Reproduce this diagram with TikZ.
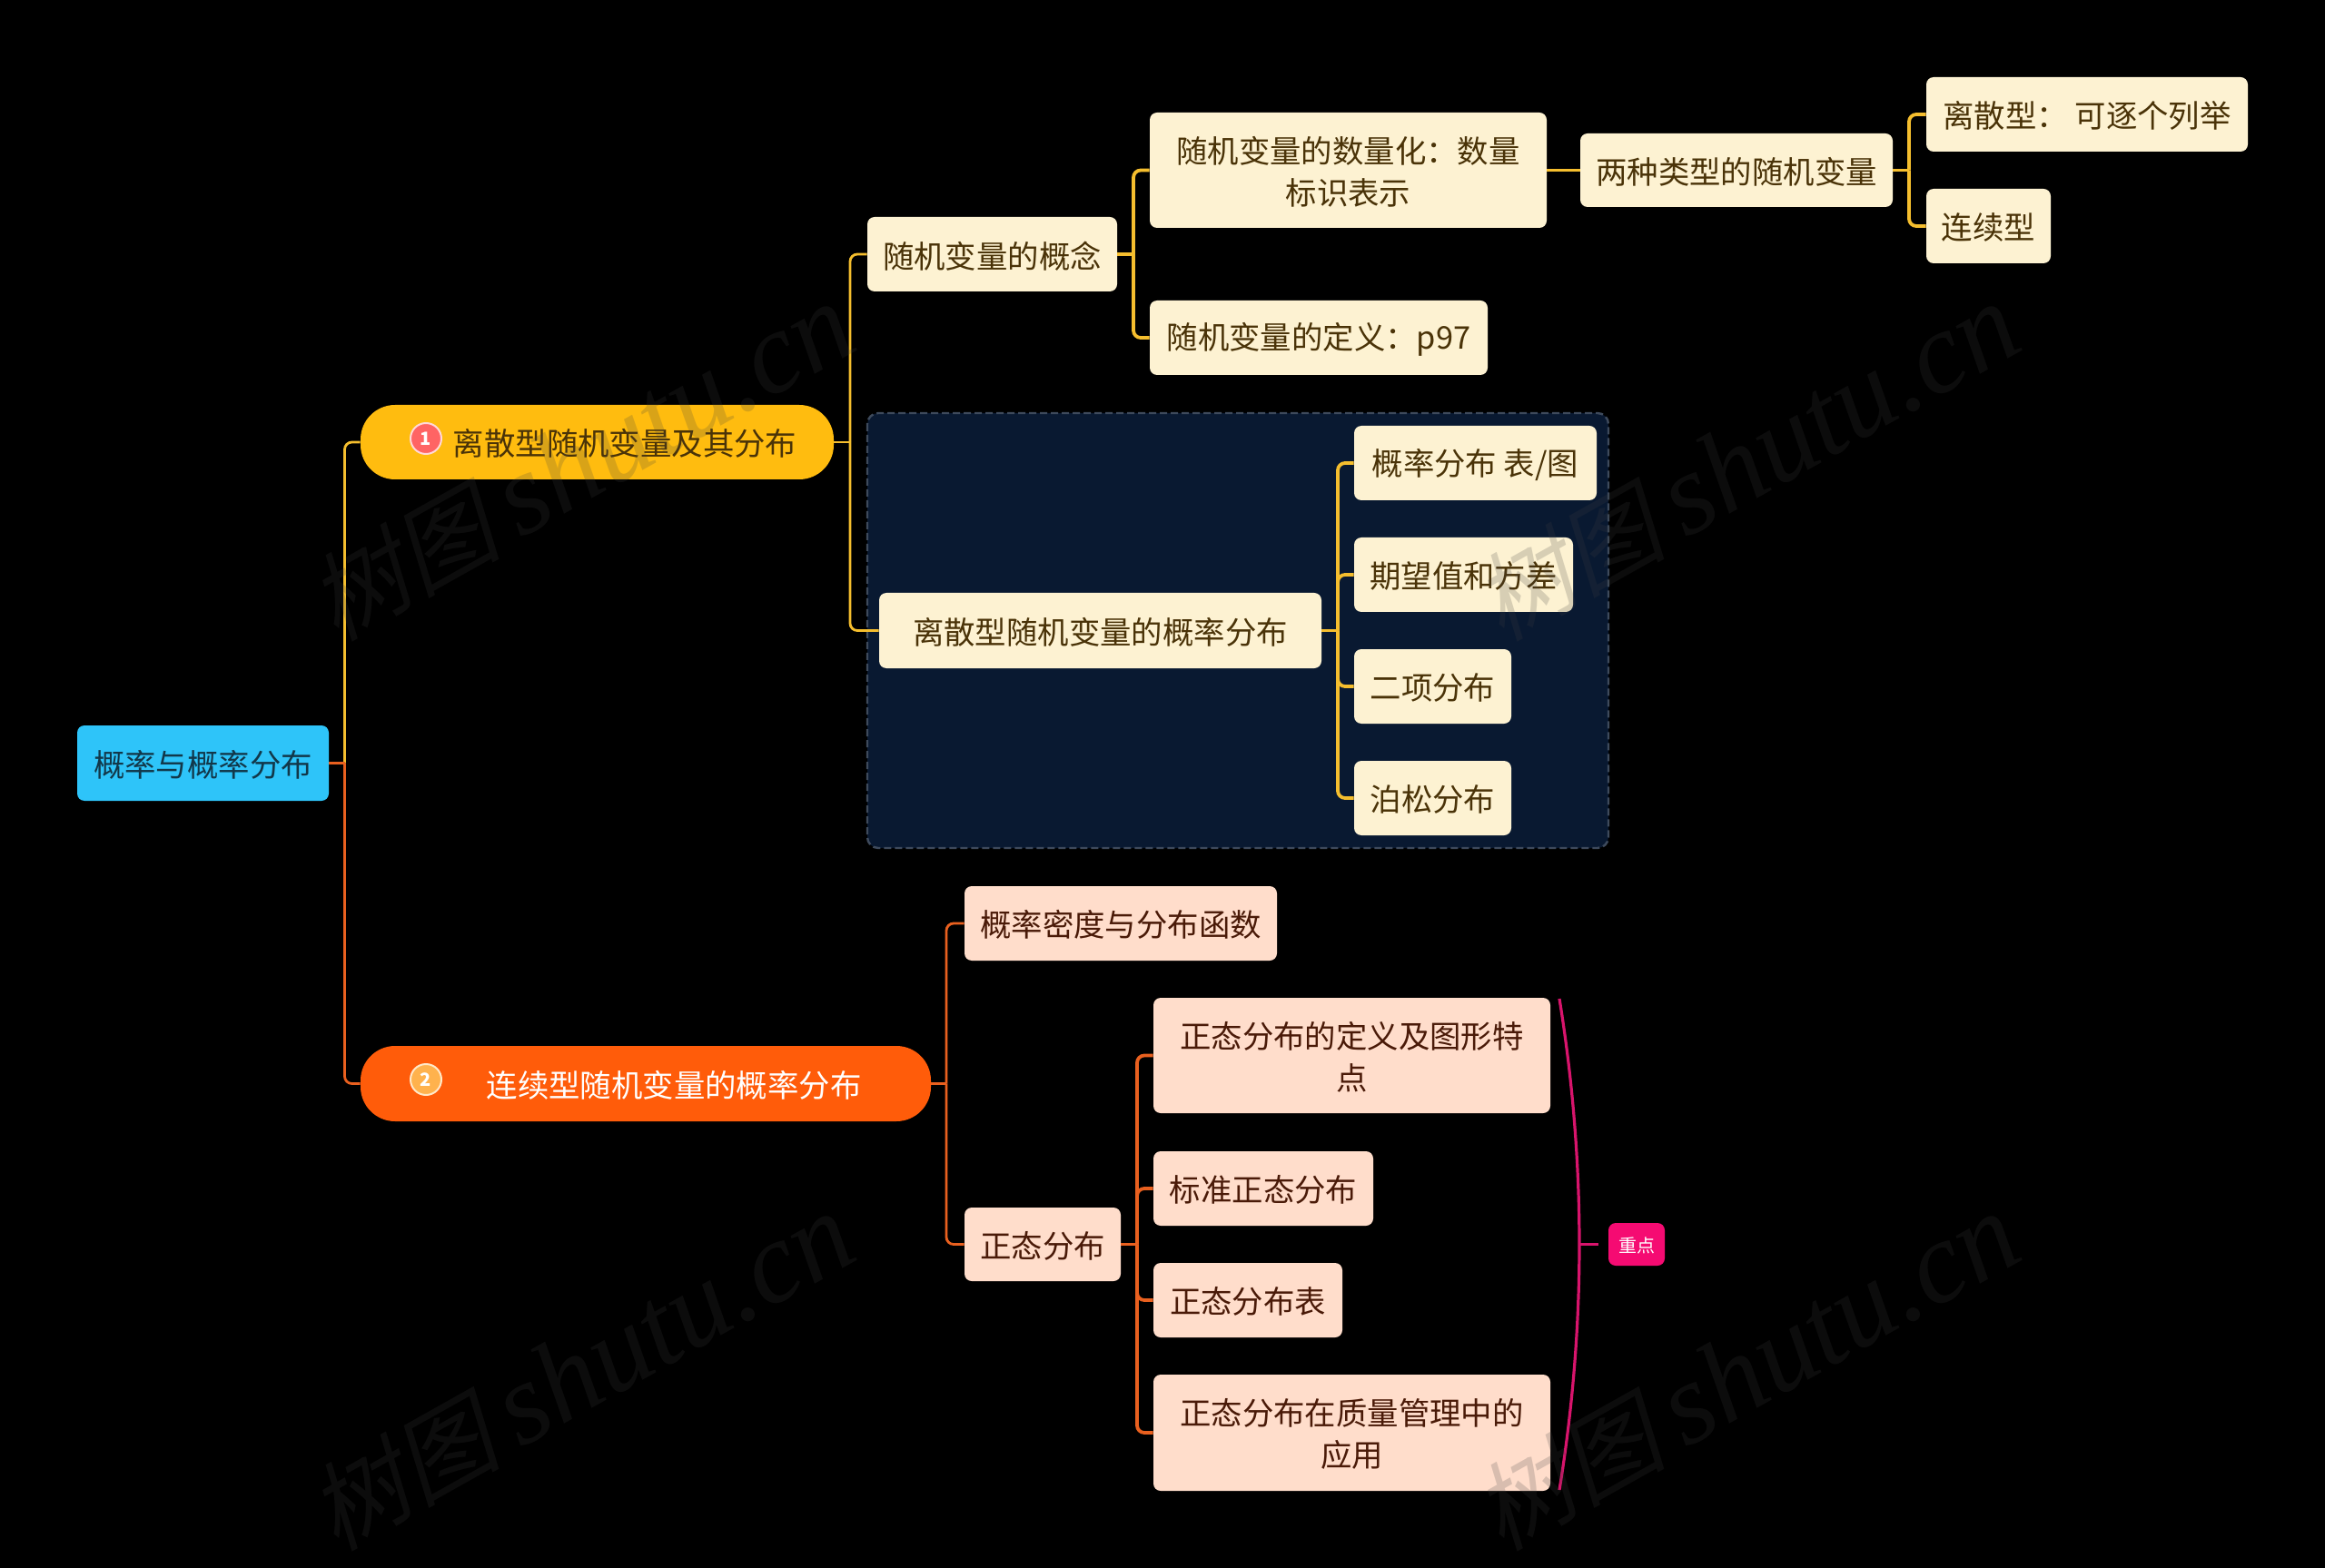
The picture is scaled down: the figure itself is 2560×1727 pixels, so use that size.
\documentclass[tikz,border=0pt]{standalone}
\usepackage{fontspec}
\setmainfont{Noto Sans CJK SC}
\newfontfamily\wmcjk[FakeSlant=0.22]{Noto Sans CJK SC}
\newfontfamily\wmlat{Liberation Serif}
\definecolor{cRoot}{HTML}{2EC4F9}
\definecolor{cYel}{HTML}{FFBC0F}
\definecolor{cOrg}{HTML}{FF5C0A}
\definecolor{cCream}{HTML}{FDF2D2}
\definecolor{cPeach}{HTML}{FFDDCB}
\definecolor{cGroup}{HTML}{091931}
\definecolor{cDash}{HTML}{3E4A5C}
\definecolor{cLineY}{HTML}{F5BE2E}
\definecolor{cLineO}{HTML}{E9601F}
\definecolor{cPink}{HTML}{F50B72}
\definecolor{cBrace}{HTML}{D8146C}
\definecolor{cTxtY}{HTML}{4A3308}
\definecolor{cTxtO}{HTML}{4A1A08}
\definecolor{cTxtR}{HTML}{12384A}
\definecolor{cBadgeA}{HTML}{FF6464}
\definecolor{cBadgeAe}{HTML}{FFD8D8}
\definecolor{cBadgeB}{HTML}{FFB24D}
\definecolor{cBadgeBe}{HTML}{FFE8C8}
% box from (#1,#2) to (#3,#4), name #5, style #6, text #7 set slightly below the box centre
\newcommand{\mmbox}[7]{%
  \node[#6,minimum width={(#3-#1)*0.5pt},minimum height={(#4-#2)*0.5pt}] (#5) at ({(#1+#3)/2},{(#2+#4)/2}) {};
  \node[#6,fill=none,yshift=-0.9pt] (#5t) at (#5.center) {#7};}
\newcommand{\mmelbow}[4]{\draw[#1,rounded corners=4pt] (#3,0 |- #2.east) -- (#3,0 |- #4.west) -- (#4.west);}
\newcommand{\mmstub}[3]{\draw[#1] (#2.east) -- (#3,0 |- #2.east);}
\newcommand{\mmwm}{\fontsize{53}{60}\wmcjk 树图\hspace{0.2em}\fontsize{64}{60}\wmlat\itshape shutu.cn}
\begin{document}
\begin{tikzpicture}[x=0.5pt,y=-0.5pt,
  basebox/.style={rectangle,rounded corners=4pt,inner sep=0pt,align=center,font=\fontsize{17.2}{23}\selectfont},
  rootbox/.style={basebox,fill=cRoot,text=cTxtR},
  yelpill/.style={basebox,rounded corners=19pt,fill=cYel,text=cTxtY},
  orgpill/.style={basebox,rounded corners=19pt,fill=cOrg,text=white},
  creambox/.style={basebox,fill=cCream,text=cTxtY},
  peachbox/.style={basebox,fill=cPeach,text=cTxtO},
  tagbox/.style={basebox,fill=cPink,text=white,font=\fontsize{10}{12}\selectfont},
  badge/.style={circle,inner sep=0pt,minimum size=17pt,line width=1pt,text=white,font=\fontsize{10}{10}\selectfont\bfseries},
  lnA/.style={line width=1.4pt},
  lnB/.style={line width=1.9pt},
  watermark/.style={rotate=29.3,text=black!75,text opacity=0.2}]
\useasboundingbox (0,0) rectangle (2560,1727);
\fill[black] (0,0) rectangle (2560,1727);
% group panel
\draw[fill=cGroup,draw=cDash,dash pattern=on 4pt off 2pt,line width=1.2pt,rounded corners=6pt] (955,455) rectangle (1771,934);
% nodes
\mmbox{85}{799}{362}{882}{root}{rootbox}{概率与概率分布}
\mmbox{397}{446}{918}{528}{one}{yelpill}{\hspace*{30.5pt}离散型随机变量及其分布}
\mmbox{397}{1152}{1025}{1235}{two}{orgpill}{\hspace*{31pt}连续型随机变量的概率分布}
\mmbox{955}{239}{1230}{321}{concept}{creambox}{随机变量的概念}
\mmbox{1266}{124}{1703}{251}{quant}{creambox}{随机变量的数量化：数量\\标识表示}
\mmbox{1266}{331}{1638}{413}{defn}{creambox}{随机变量的定义：p97}
\mmbox{1740}{147}{2084}{228}{types}{creambox}{两种类型的随机变量}
\mmbox{2121}{85}{2475}{167}{disc}{creambox}{离散型： 可逐个列举}
\mmbox{2121}{208}{2258}{290}{cont}{creambox}{连续型}
\mmbox{968}{653}{1455}{736}{dist}{creambox}{离散型随机变量的概率分布}
\mmbox{1491}{469}{1758}{551}{table}{creambox}{概率分布 表/图}
\mmbox{1491}{592}{1732}{674}{expect}{creambox}{期望值和方差}
\mmbox{1491}{715}{1664}{797}{binom}{creambox}{二项分布}
\mmbox{1491}{838}{1664}{920}{poisson}{creambox}{泊松分布}
\mmbox{1062}{976}{1406}{1058}{density}{peachbox}{概率密度与分布函数}
\mmbox{1062}{1330}{1234}{1411}{normal}{peachbox}{正态分布}
\mmbox{1270}{1099}{1707}{1226}{ndef}{peachbox}{正态分布的定义及图形特\\点}
\mmbox{1270}{1268}{1512}{1350}{nstd}{peachbox}{标准正态分布}
\mmbox{1270}{1391}{1478}{1473}{ntab}{peachbox}{正态分布表}
\mmbox{1270}{1514}{1707}{1642}{napp}{peachbox}{正态分布在质量管理中的\\应用}
\mmbox{1771}{1347}{1833}{1394}{tag}{tagbox}{重点}
% badges
\node[badge,fill=cBadgeA,draw=cBadgeAe] (b1) at (469,483) {1};
\node[badge,fill=cBadgeB,draw=cBadgeBe] (b2) at (469,1189) {2};
% connectors
\mmelbow{lnA,cLineY}{root}{379.5}{one}
\mmelbow{lnA,cLineO}{root}{379.5}{two}
\mmstub{lnA,cLineO}{root}{379.5}
\mmelbow{lnA,cLineY}{one}{936}{concept}
\mmelbow{lnA,cLineY}{one}{936}{dist}
\mmstub{lnA,cLineY}{one}{936}
\mmelbow{lnB,cLineY}{concept}{1248}{quant}
\mmelbow{lnB,cLineY}{concept}{1248}{defn}
\mmstub{lnB,cLineY}{concept}{1248}
\draw[lnB,cLineY] (quant.east) -- (types.west);
\mmelbow{lnB,cLineY}{types}{2102}{disc}
\mmelbow{lnB,cLineY}{types}{2102}{cont}
\mmstub{lnB,cLineY}{types}{2102}
\mmelbow{lnB,cLineY}{dist}{1473}{table}
\mmelbow{lnB,cLineY}{dist}{1473}{expect}
\mmelbow{lnB,cLineY}{dist}{1473}{binom}
\mmelbow{lnB,cLineY}{dist}{1473}{poisson}
\mmstub{lnB,cLineY}{dist}{1473}
\mmelbow{lnA,cLineO}{two}{1042}{density}
\mmelbow{lnA,cLineO}{two}{1042}{normal}
\mmstub{lnA,cLineO}{two}{1042}
\mmelbow{lnB,cLineO}{normal}{1252}{ndef}
\mmelbow{lnB,cLineO}{normal}{1252}{nstd}
\mmelbow{lnB,cLineO}{normal}{1252}{ntab}
\mmelbow{lnB,cLineO}{normal}{1252}{napp}
\mmstub{lnB,cLineO}{normal}{1252}
% summary bracket
\coordinate (brtop) at (1717,1100);
\coordinate (brbot) at (1717,1641);
\coordinate (brmid) at (1739,1370.5);
\coordinate (brend) at (1760,1370.5);
\draw[line width=1.6pt,cBrace] (brtop) .. controls (1746.3,1280) and (1746.3,1461) .. (brbot);
\draw[line width=1.6pt,cBrace] (brmid) -- (brend);
% watermarks
\node[watermark] (w1) at (640,510) {\mmwm};
\node[watermark] (w2) at (1923,510) {\mmwm};
\node[watermark] (w3) at (640,1512) {\mmwm};
\node[watermark] (w4) at (1923,1512) {\mmwm};
\end{tikzpicture}
\end{document}
